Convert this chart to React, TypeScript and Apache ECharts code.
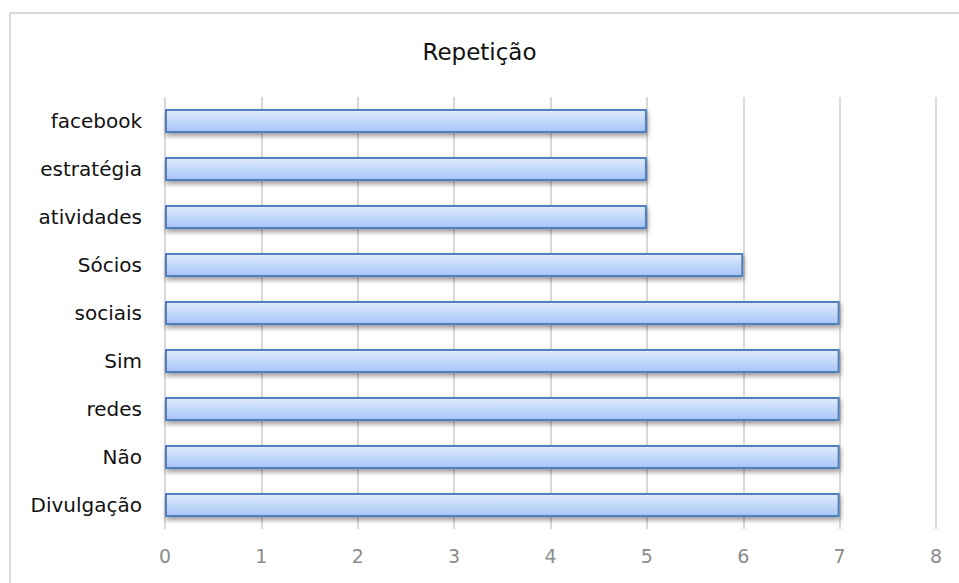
import React, { useEffect, useRef } from "react";
import * as echarts from "echarts";

const categories = ["Divulgação", "Não", "redes", "Sim", "sociais", "Sócios", "atividades", "estratégia", "facebook"];
const values = [7, 7, 7, 7, 7, 6, 5, 5, 5];
const xTicks = [0, 8, 1]; // min, max, interval
const titleText = "Repetição";

export default function App() {
  const ref = useRef<HTMLDivElement>(null);
  useEffect(() => {
    if (!ref.current) return;
    const chart = echarts.init(ref.current, null, { renderer: "svg" });
    chart.setOption({
      animation: false,
      backgroundColor: "#ffffff",
      title: {
        text: titleText,
        left: "center",
        top: 35,
        textStyle: { fontFamily: "DejaVu Sans", fontSize: 23, fontWeight: "normal", color: "#111" },
      },
      graphic: [
        {
          type: "rect",
          shape: { x: 10, y: 13, width: 960, height: 600 },
          style: { fill: "none", stroke: "#d9d9d9", lineWidth: 2 },
          silent: true,
        },
      ],
      grid: { left: 165, right: 23, top: 97, height: 432, containLabel: false },
      xAxis: {
        type: "value",
        min: xTicks[0],
        max: xTicks[1],
        interval: xTicks[2],
        axisLine: { show: false },
        axisTick: { show: false },
        splitLine: { show: true, lineStyle: { color: "#d9d9d9", width: 2 } },
        axisLabel: { color: "#8c8c8c", fontSize: 19, fontFamily: "DejaVu Sans", margin: 17 },
      },
      yAxis: {
        type: "category",
        data: categories,
        axisLine: { show: false },
        axisTick: { show: false },
        axisLabel: { color: "#111", fontSize: 20, fontFamily: "DejaVu Sans", margin: 23 },
      },
      series: [
        {
          type: "bar",
          data: values,
          barWidth: "50%",
          itemStyle: {
            color: new echarts.graphic.LinearGradient(0, 0, 0, 1, [
              { offset: 0, color: "#e2ecfc" },
              { offset: 1, color: "#a6c5f5" },
            ]),
            borderColor: "#4f81bd",
            borderWidth: 2,
            shadowColor: "rgba(0,0,0,0.4)",
            shadowBlur: 5,
            shadowOffsetY: 3,
            shadowOffsetX: 1,
          },
        },
      ],
    });
    return () => chart.dispose();
  }, []);
  return (
    <div
      ref={ref}
      style={{ position: "fixed", left: 0, top: 0, width: 959, height: 583 }}
    />
  );
}
